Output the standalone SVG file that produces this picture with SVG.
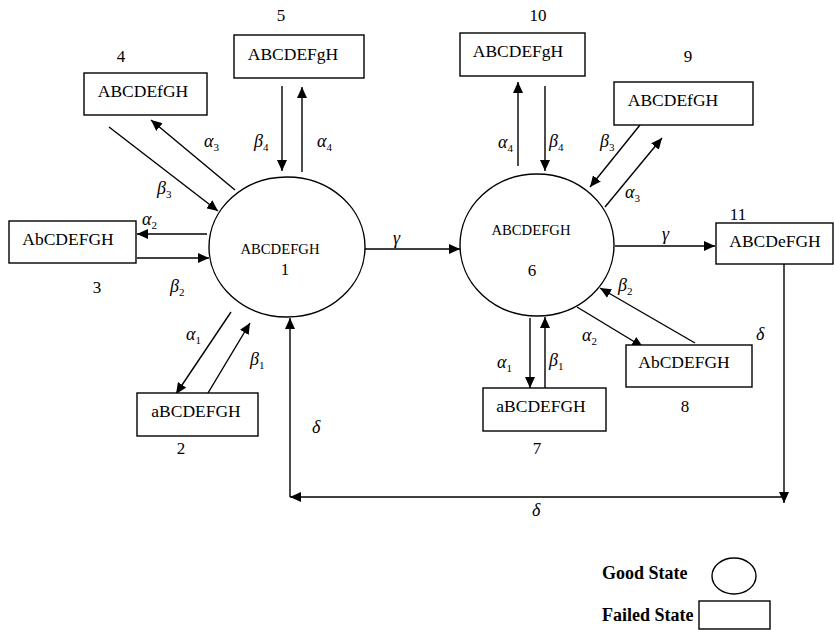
<svg xmlns="http://www.w3.org/2000/svg" width="835" height="630" viewBox="0 0 835 630">
<defs>
<marker id="ah" markerUnits="userSpaceOnUse" markerWidth="12" markerHeight="10" refX="11" refY="5" orient="auto">
<path d="M0,0 L11,5 L0,10 Z" fill="#000"/>
</marker>
<style>
.box{fill:#fff;stroke:#000;stroke-width:1.4}
.st{fill:#fff;stroke:#000;stroke-width:1.4}
.c{stroke:#000;stroke-width:1.4;fill:none;marker-end:url(#ah)}
.p{stroke:#000;stroke-width:1.4;fill:none}
text{font-family:"Liberation Serif","Times New Roman",serif;fill:#000}
.bt{font-size:17.5px;text-anchor:middle}
.ct{font-size:14.7px;text-anchor:middle}
.n{font-size:17px;text-anchor:middle}
.g{font-size:18px;font-style:italic}
.s{font-size:11px;font-style:normal}
.lg{font-size:18px;font-weight:bold}
</style>
</defs>
<g id="connectors">
<line class="c" x1="282" y1="86" x2="282" y2="171"/>
<line class="c" x1="302" y1="172" x2="302" y2="87"/>
<line class="c" x1="109" y1="127" x2="218" y2="211"/>
<line class="c" x1="235" y1="190" x2="151" y2="120"/>
<line class="c" x1="207" y1="234" x2="137" y2="234"/>
<line class="c" x1="137" y1="258" x2="209" y2="258"/>
<line class="c" x1="231" y1="312" x2="176" y2="394"/>
<line class="c" x1="208" y1="393" x2="250" y2="323"/>
<line class="c" x1="365" y1="249" x2="460" y2="249"/>
<line class="c" x1="518" y1="166" x2="518" y2="82"/>
<line class="c" x1="545" y1="86" x2="545" y2="171"/>
<line class="c" x1="640" y1="125" x2="590" y2="187"/>
<line class="c" x1="605" y1="207" x2="662" y2="138"/>
<line class="c" x1="615" y1="246" x2="715" y2="246"/>
<line class="c" x1="695" y1="343" x2="600" y2="288"/>
<line class="c" x1="577" y1="307" x2="643" y2="347"/>
<line class="c" x1="530" y1="318" x2="530" y2="388"/>
<line class="c" x1="545" y1="388" x2="545" y2="317"/>
<line class="c" x1="784" y1="264" x2="784" y2="503"/>
<line class="c" x1="784" y1="497" x2="290" y2="497"/>
<line class="c" x1="290" y1="497" x2="290" y2="318"/>
</g>
<g id="labels">
<text class="g" x="204" y="147">α<tspan class="s" dy="4">3</tspan></text>
<text class="g" x="254" y="147">β<tspan class="s" dy="4">4</tspan></text>
<text class="g" x="317" y="147">α<tspan class="s" dy="4">4</tspan></text>
<text class="g" x="157" y="194">β<tspan class="s" dy="4">3</tspan></text>
<text class="g" x="142" y="225">α<tspan class="s" dy="4">2</tspan></text>
<text class="g" x="170" y="292">β<tspan class="s" dy="4">2</tspan></text>
<text class="g" x="186" y="340">α<tspan class="s" dy="4">1</tspan></text>
<text class="g" x="250" y="365">β<tspan class="s" dy="4">1</tspan></text>
<text class="g" x="393" y="244">γ</text>
<text class="g" x="498" y="148">α<tspan class="s" dy="4">4</tspan></text>
<text class="g" x="549" y="147">β<tspan class="s" dy="4">4</tspan></text>
<text class="g" x="600" y="147">β<tspan class="s" dy="4">3</tspan></text>
<text class="g" x="625" y="198">α<tspan class="s" dy="4">3</tspan></text>
<text class="g" x="662" y="240">γ</text>
<text class="g" x="618" y="291">β<tspan class="s" dy="4">2</tspan></text>
<text class="g" x="582" y="341">α<tspan class="s" dy="4">2</tspan></text>
<text class="g" x="497" y="368">α<tspan class="s" dy="4">1</tspan></text>
<text class="g" x="549" y="366">β<tspan class="s" dy="4">1</tspan></text>
<text class="g" x="756" y="340">δ</text>
<text class="g" x="312" y="433">δ</text>
<text class="g" x="532" y="516">δ</text>
</g>
<g id="s1"><ellipse class="st" cx="287" cy="247" rx="78" ry="70"/><text class="ct" x="280" y="254">ABCDEFGH</text><text class="n" x="285" y="275">1</text></g>
<g id="s6"><ellipse class="st" cx="537" cy="245" rx="77" ry="71"/><text class="ct" x="531" y="235">ABCDEFGH</text><text class="n" x="532" y="276">6</text></g>
<g id="s2"><rect class="box" x="137" y="393" width="121" height="43"/><text class="bt" x="196" y="417">aBCDEFGH</text><text class="n" x="181" y="454">2</text></g>
<g id="s3"><rect class="box" x="9" y="221" width="127" height="42"/><text class="bt" x="68" y="245">AbCDEFGH</text><text class="n" x="97" y="293">3</text></g>
<g id="s4"><rect class="box" x="84" y="73" width="123" height="42"/><text class="bt" x="143" y="97">ABCDEfGH</text><text class="n" x="121" y="62">4</text></g>
<g id="s5"><rect class="box" x="234" y="35" width="130" height="43"/><text class="bt" x="293" y="60">ABCDEFgH</text><text class="n" x="281" y="21">5</text></g>
<g id="s7"><rect class="box" x="483" y="388" width="123" height="43"/><text class="bt" x="541" y="412">aBCDEFGH</text><text class="n" x="537" y="454">7</text></g>
<g id="s8"><rect class="box" x="626" y="345" width="126" height="42"/><text class="bt" x="684" y="368">AbCDEFGH</text><text class="n" x="685" y="412">8</text></g>
<g id="s9"><rect class="box" x="614" y="82" width="139" height="43"/><text class="bt" x="673" y="106">ABCDEfGH</text><text class="n" x="688" y="62">9</text></g>
<g id="s10"><rect class="box" x="460" y="33" width="125" height="43"/><text class="bt" x="518" y="57">ABCDEFgH</text><text class="n" x="538" y="21">10</text></g>
<g id="s11"><rect class="box" x="716" y="223" width="117" height="41"/><text class="bt" x="775" y="247">ABCDeFGH</text><text class="n" x="738" y="220">11</text></g>
<g id="legend">
<text class="lg" x="602" y="579">Good State</text>
<ellipse class="st" cx="734" cy="576" rx="22" ry="18"/>
<text class="lg" x="602" y="621">Failed State</text>
<rect class="box" x="699" y="601" width="71" height="28"/>
</g>
</svg>
